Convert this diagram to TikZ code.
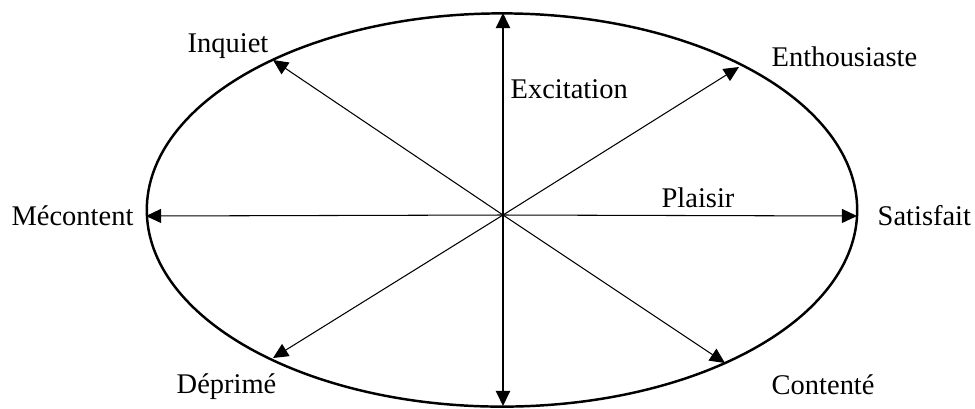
\documentclass[tikz,border=0pt]{standalone}
\usepackage{fontspec}
\setmainfont{Liberation Serif}
\usepackage{tikz}
\usetikzlibrary{arrows.meta}

\begin{document}
\begin{tikzpicture}[x=0.01cm,y=-0.01cm,
    lbl/.style={font=\fontsize{8.1}{10}\selectfont,inner sep=0pt},
    ax/.style={line width=0.6pt,-{Triangle[length=4.3pt,width=4pt]}},
    dg/.style={line width=0.3pt,-{Triangle[length=4.3pt,width=4pt]}},
    rim/.style={line width=0.7pt}]
   \useasboundingbox (0,0) rectangle (975,408);
   \draw[rim] (502,210) ellipse [x radius=3.55cm,y radius=1.965cm];
   % arrow ends
   \coordinate (o)  at (503,215);
   \coordinate (n)  at (503,13);
   \coordinate (s)  at (503,406);
   \coordinate (w)  at (146,216);
   \coordinate (e)  at (857,216);
   \coordinate (nw) at (273,60);
   \coordinate (ne) at (739,67);
   \coordinate (se) at (725,363);
   \coordinate (sw) at (273,358);
   \draw[ax] (o)--(n); \draw[ax] (o)--(s);
   \draw[dg] (o)--(w); \draw[dg] (o)--(e);
   \draw[dg] (o)--(nw); \draw[dg] (o)--(ne);
   \draw[dg] (o)--(se); \draw[dg] (o)--(sw);
   % labels
   \node[lbl,anchor=base west] (exc) at (510,98)  {Excitation};
   \node[lbl,anchor=base]      (pla) at (698,207) {Plaisir};
   \node[lbl,anchor=base west] (ent) at (771,66)  {Enthousiaste};
   \node[lbl,anchor=base]      (inq) at (228,52)  {Inquiet};
   \node[lbl,anchor=base]      (mec) at (72.5,225) {Mécontent};
   \node[lbl,anchor=base west] (sat) at (877,225) {Satisfait};
   \node[lbl,anchor=base west] (dep) at (176,393) {Déprimé};
   \node[lbl,anchor=base west] (con) at (771,394) {Contenté};
  \end{tikzpicture}
\end{document}
